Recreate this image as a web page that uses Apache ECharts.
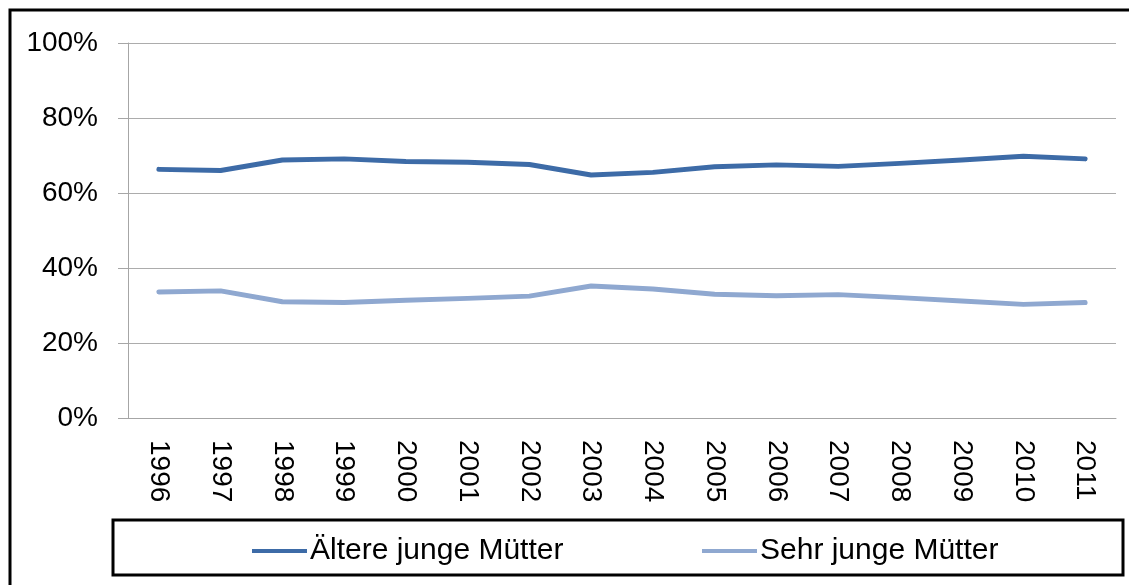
<!DOCTYPE html>
<html>
<head>
<meta charset="utf-8">
<script src="https://cdn.jsdelivr.net/npm/echarts@6/dist/echarts.min.js"></script>
<style>
  html, body { margin: 0; padding: 0; background: #fff; }
  #main { width: 1129px; height: 585px; }
</style>
</head>
<body>
<div id="main"></div>
<script>
var years = ['1996','1997','1998','1999','2000','2001','2002','2003','2004','2005','2006','2007','2008','2009','2010','2011'];
var aeltere = [66.3, 66.0, 68.8, 69.1, 68.4, 68.2, 67.6, 64.8, 65.5, 67.0, 67.5, 67.1, 67.9, 68.8, 69.8, 69.1];
var sehrJung = [33.6, 33.9, 31.0, 30.8, 31.4, 31.9, 32.5, 35.2, 34.4, 33.0, 32.6, 32.9, 32.1, 31.2, 30.3, 30.8];
var namen = ['Ältere junge Mütter', 'Sehr junge Mütter'];
var farben = ['#3d6ba7', '#8fa8d0'];

var chart = echarts.init(document.getElementById('main'));
var schrift = 'Liberation Sans';

var option = {
    animation: false,
    color: farben,
    grid: {
        left: 128,
        right: 13,
        top: 43,
        bottom: 167
    },
    // Legende: zwei Teile, damit die Abstaende wie im Original sind
    legend: [{
        data: [namen[0]],
        left: 247,
        top: 531,
        icon: 'rect',
        itemWidth: 55,
        itemHeight: 4,
        itemGap: 4,
        textStyle: { fontFamily: schrift, fontSize: 30, color: '#000', padding: [0, 0, 0, -2] }
    }, {
        data: [namen[1]],
        left: 697,
        top: 531,
        icon: 'rect',
        itemWidth: 55,
        itemHeight: 4,
        textStyle: { fontFamily: schrift, fontSize: 30, color: '#000', padding: [0, 0, 0, -2] }
    }],
    xAxis: {
        type: 'category',
        boundaryGap: true,
        data: years,
        axisLine: { lineStyle: { color: '#a6a6a6', width: 1 } },
        axisTick: { length: 10, lineStyle: { color: '#a6a6a6' } },
        axisLabel: {
            rotate: -90,
            margin: 22,
            fontFamily: schrift,
            fontSize: 28,
            color: '#000'
        }
    },
    yAxis: {
        type: 'value',
        min: 0,
        max: 100,
        interval: 20,
        axisLine: { show: true, lineStyle: { color: '#a6a6a6', width: 1 } },
        axisTick: { show: true, length: 10, lineStyle: { color: '#a6a6a6' } },
        axisLabel: {
            formatter: '{value}%',
            margin: 30,
            fontFamily: schrift,
            fontSize: 28,
            color: '#000'
        },
        splitLine: { lineStyle: { color: '#acacac', width: 1 } }
    },
    series: [{
        name: namen[0],
        type: 'line',
        data: aeltere,
        symbol: 'none',
        lineStyle: { width: 5, cap: 'round', join: 'round' }
    }, {
        name: namen[1],
        type: 'line',
        data: sehrJung,
        symbol: 'none',
        lineStyle: { width: 5, cap: 'round', join: 'round' }
    }],
    graphic: [{
        type: 'rect',
        shape: { x: 10, y: 10, width: 1200, height: 700 },
        style: { fill: 'none', stroke: '#000', lineWidth: 3 },
        silent: true
    }, {
        type: 'rect',
        shape: { x: 113, y: 520, width: 1010, height: 55 },
        style: { fill: 'none', stroke: '#000', lineWidth: 3 },
        silent: true
    }]
};

chart.setOption(option);
</script>
</body>
</html>
